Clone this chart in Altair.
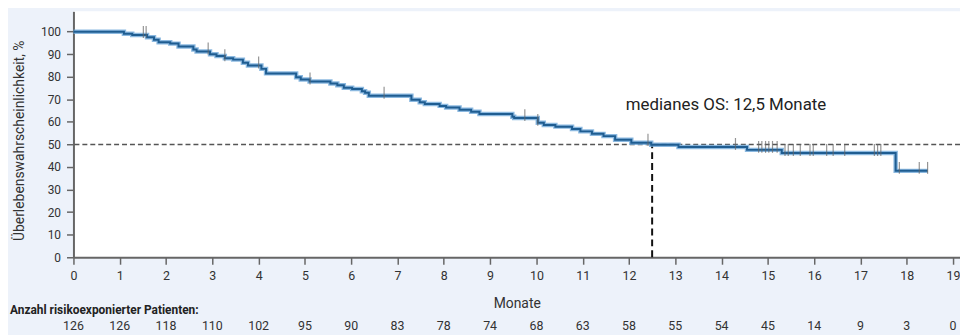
import altair as alt
import pandas as pd

# Kaplan-Meier step curve (time in months, survival in %)
times = [0, 1.09, 1.27, 1.59, 1.74, 1.84, 2.09, 2.27, 2.59, 2.66, 2.95, 3.09, 3.27,
         3.45, 3.66, 3.77, 4.06, 4.16, 4.81, 4.91, 5.10, 5.55, 5.70, 5.84, 6.02,
         6.23, 6.30, 6.38, 7.30, 7.48, 7.59, 7.91, 8.05, 8.34, 8.59, 8.77, 9.48,
         9.52, 10.03, 10.16, 10.41, 10.77, 10.95, 11.20, 11.45, 11.70, 12.05,
         12.48, 13.07, 14.55, 15.30, 17.76, 18.45]
surv = [100, 99.1, 98.5, 97.5, 96.4, 95.3, 94.7, 93.4, 92.1, 91.2, 90.0, 89.2, 88.2,
        87.6, 86.2, 85.0, 83.5, 81.5, 79.8, 78.8, 77.9, 77.0, 76.2, 75.1, 74.6,
        73.6, 72.9, 71.6, 69.8, 68.7, 67.9, 67.1, 66.4, 65.4, 64.5, 63.5, 62.3,
        61.7, 59.6, 58.6, 57.9, 56.9, 55.8, 54.7, 53.7, 52.1, 50.8,
        49.9, 48.9, 47.6, 46.2, 38.3, 38.3]

censor_times = [1.51, 1.57, 2.91, 3.27, 4.0, 5.11, 6.71, 9.75, 10.03, 12.41, 14.3,
                14.8, 14.87, 14.95, 15.02, 15.1, 15.2, 15.37, 15.44, 15.55, 15.7,
                15.91, 15.98, 16.27, 16.41, 16.66, 17.3, 17.37, 17.44, 17.84,
                18.27, 18.45]

months = list(range(20))
y_ticks = list(range(0, 101, 10))
at_risk = [126, 126, 118, 110, 102, 95, 90, 83, 78, 74, 68, 63, 58, 55, 54, 45, 14, 9, 3, 0]

median_os = 12.5
median_level = 50


def surv_at(t):
    v = surv[0]
    for ti, si in zip(times, surv):
        if ti <= t:
            v = si
    return v


km_df = pd.DataFrame({"t": times, "s": surv})
cens_df = pd.DataFrame({"t": censor_times, "s": [surv_at(t) for t in censor_times]})
risk_df = pd.DataFrame({"m": months, "n": [str(n) for n in at_risk]})

FONT = "Roboto"
xs = alt.Scale(domain=[0, 19.15], nice=False, zero=False)
ys = alt.Scale(domain=[0, 109], nice=False)

x_axis = alt.Axis(values=months, title="Monate", tickSize=7, tickColor="#666",
                  tickWidth=1.5, domainColor="#666", domainWidth=2,
                  labelFontSize=12.5, labelColor="#333", labelPadding=5, labelFont=FONT,
                  titleFont=FONT, titleFontSize=14, titleFontWeight="normal",
                  titleColor="#333", titlePadding=15, grid=False, labelFlush=False,
                  labelOverlap=False)
y_axis = alt.Axis(values=y_ticks, title="Überlebenswahrscheinlichkeit, %",
                  tickSize=7, tickColor="#666", tickWidth=1.5, domainColor="#666",
                  domainWidth=2, labelFontSize=12, labelColor="#333", labelPadding=6,
                  labelFont=FONT, titleFont=FONT, titleFontSize=14,
                  titleFontWeight="normal", titleColor="#333", titleX=-47, titleY=130,
                  grid=False, labelOverlap=False, labelFlush=False)


def X(f):
    return alt.X(f, scale=xs, axis=x_axis)


def Y(f):
    return alt.Y(f, scale=ys, axis=y_axis)


hline = alt.Chart(pd.DataFrame({"y": [median_level]})).mark_rule(
    strokeDash=[5, 3], color="#555", strokeWidth=1.6
).encode(y=Y("y:Q"))

vline = alt.Chart(pd.DataFrame({"x": [median_os], "y": [0], "y2": [median_level]})).mark_rule(
    strokeDash=[7, 4], color="#111", strokeWidth=2
).encode(x=X("x:Q"), y=Y("y:Q"), y2="y2:Q")

halo = alt.Chart(km_df).mark_line(interpolate="step-after", color="#6fa8d8",
                                  strokeWidth=4.5, opacity=0.8).encode(
    x=X("t:Q"), y=Y("s:Q"))
core = alt.Chart(km_df).mark_line(interpolate="step-after", color="#1f5d91",
                                  strokeWidth=2).encode(
    x=X("t:Q"), y=Y("s:Q"))

ticks = alt.Chart(cens_df).mark_tick(orient="vertical", size=12, thickness=1.2,
                                     color="#666", yOffset=-3).encode(
    x=X("t:Q"), y=Y("s:Q"))

label = alt.Chart(pd.DataFrame({"x": [11.93], "y": [67.5], "txt": ["medianes OS: 12,5 Monate"]})).mark_text(
    align="left", baseline="middle", fontSize=17, font=FONT, color="#222"
).encode(x=X("x:Q"), y=Y("y:Q"), text="txt:N")

risk = alt.Chart(risk_df).mark_text(align="center", baseline="middle", fontSize=12.5,
                                    font=FONT, color="#333").encode(
    x=X("m:Q"), y=alt.value(317), text="n:N")

risk_title = alt.Chart(pd.DataFrame({"txt": ["Anzahl risikoexponierter Patienten:"]})).mark_text(
    align="left", baseline="middle", fontSize=12, font=FONT, fontWeight="bold", color="#222"
).encode(x=alt.value(-64), y=alt.value(301), text="txt:N")

chart = alt.layer(hline, vline, halo, core, ticks, label, risk, risk_title).properties(
    width=894, height=248,
    autosize=alt.AutoSizeParams(type="none"),
    padding={"left": 66, "top": 2, "right": 0, "bottom": 77},
    background="#edf2fa",
).configure_view(fill="white", stroke=None)

chart.save("out.html", embed_options={"renderer": "svg", "actions": False})
